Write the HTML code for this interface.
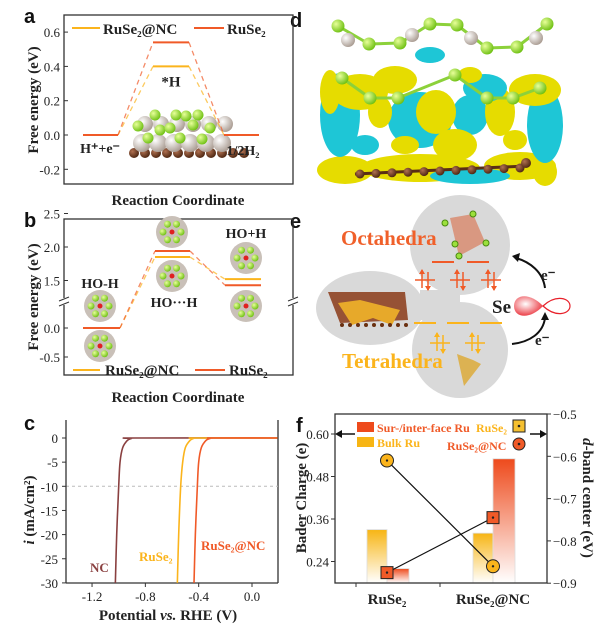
<!DOCTYPE html>
<html><head><meta charset="utf-8"><style>
html,body{margin:0;padding:0;background:#fff}
svg{display:block}
text{font-family:"Liberation Serif",serif;font-weight:bold;fill:#222}
.lt{font-family:"Liberation Sans",sans-serif;font-weight:bold;font-size:20px;fill:#111}
.tk{font-weight:normal;font-size:13px}
</style></head><body>
<svg id="fig" width="600" height="637" viewBox="0 0 600 637" xmlns="http://www.w3.org/2000/svg">
<defs>
<linearGradient id="gy" x1="0" y1="0" x2="0" y2="1"><stop offset="0" stop-color="#f7b514"/><stop offset="1" stop-color="#fff"/></linearGradient>
<linearGradient id="go" x1="0" y1="0" x2="0" y2="1"><stop offset="0" stop-color="#ee4a1c"/><stop offset="1" stop-color="#fff"/></linearGradient>
<radialGradient id="gball" cx="0.35" cy="0.35" r="0.7"><stop offset="0" stop-color="#e8ff9a"/><stop offset="1" stop-color="#6cbf10"/></radialGradient>
<radialGradient id="gru" cx="0.35" cy="0.35" r="0.7"><stop offset="0" stop-color="#fff"/><stop offset="1" stop-color="#a89a90"/></radialGradient>
<radialGradient id="gc" cx="0.35" cy="0.35" r="0.7"><stop offset="0" stop-color="#b07050"/><stop offset="1" stop-color="#4a2410"/></radialGradient>
<radialGradient id="globe" cx="0.4" cy="0.4" r="0.7"><stop offset="0" stop-color="#fff"/><stop offset="1" stop-color="#e8202a"/></radialGradient>
</defs>

<text class="lt" x="24" y="23">a</text>
<text class="lt" x="24" y="227">b</text>
<text class="lt" x="24" y="430">c</text>
<text class="lt" x="290" y="27">d</text>
<text class="lt" x="290" y="228">e</text>
<text class="lt" x="296" y="432">f</text>

<g id="pa"></g>
<g id="pb"></g>
<g id="pc"></g>
<g id="pd"></g>
<g id="pe"></g>
<g id="pf"></g>
</svg>
<script>
// ---------- data ----------
const aStates = ["H⁺+e⁻","*H","1/2H₂"];
const aNC = [0, 0.40, 0];
const aRu = [0, 0.54, 0];
const aTicks = [0.6,0.4,0.2,0.0,-0.2];

const bNC = [0, 1.85, 1.52];
const bRu = [0, 1.94, 1.43];
const bTicksHi = [2.5,2.0,1.5];
const bTicksLo = [0.0,-0.5];

const cCurrents = [0,-0.1,-0.5,-2,-5,-10,-20,-30];
const cNC = [-0.88,-0.905,-0.935,-0.97,-0.99,-1.00,-1.015,-1.025];
const cRuSe2 = [-0.42,-0.44,-0.465,-0.50,-0.52,-0.535,-0.55,-0.56];
const cRuSe2NC = [-0.29,-0.315,-0.345,-0.38,-0.40,-0.41,-0.425,-0.435];
const cXTicks = [-1.2,-0.8,-0.4,0.0];
const cYTicks = [0,-5,-10,-15,-20,-25,-30];

const fCats = ["RuSe₂","RuSe₂@NC"];
const fBulk = [0.33, 0.32];
const fSurf = [0.22, 0.53];
const fDbandSq = [-0.875, -0.745];
const fDbandCi = [-0.61, -0.86];
const fLTicks = [0.60,0.48,0.36,0.24];
const fRTicks = [-0.5,-0.6,-0.7,-0.8,-0.9];

const NS="http://www.w3.org/2000/svg";
const YEL="#fbb41c", ORG="#f05a28";
function mk(parent,tag,attrs,txt){const e=document.createElementNS(NS,tag);for(const k in attrs)e.setAttribute(k,attrs[k]);if(txt!==undefined)e.textContent=txt;parent.appendChild(e);return e;}

// ---------- panel a ----------
(function(){
const g=document.getElementById('pa');
const y=v=>135-v*171.5;
const xs=[[83,118],[153,189],[224,259]];
let f=mk(g,'rect',{x:64,y:15,width:229,height:169,fill:'none',stroke:'#333','stroke-width':1.3});

aTicks.forEach(t=>{mk(g,'line',{x1:64,x2:68,y1:y(t),y2:y(t),stroke:'#333'});
 const l=mk(g,'text',{x:60,y:y(t)+5,'text-anchor':'end',class:'tk'},t.toFixed(1));
 });
for(let i=0;i<11;i++)mk(g,'circle',{cx:134+i*11,cy:153,r:5,fill:'url(#gc)'});
for(let i=0;i<6;i++){mk(g,'circle',{cx:142+i*16,cy:143,r:9,fill:'url(#gru)'});mk(g,'circle',{cx:145+i*16,cy:124,r:8,fill:'url(#gru)'});}
[[148,138],[160,130],[138,126],[155,115],[170,128],[180,138],[193,125],[186,116],[202,139],[210,128],[198,115],[176,115]].forEach(p=>mk(g,'circle',{cx:p[0],cy:p[1],r:5.5,fill:'url(#gball)'}));
function series(vals,col,name){
 vals.forEach((v,i)=>{const s=mk(g,'line',{x1:xs[i][0],x2:xs[i][1],y1:y(v),y2:y(v),stroke:col,'stroke-width':2});
  
  if(i<vals.length-1)mk(g,'line',{x1:xs[i][1],x2:xs[i+1][0],y1:y(v),y2:y(vals[i+1]),stroke:col,'stroke-width':1.3,'stroke-dasharray':'5,4',opacity:0.7});});
}
series(aNC,YEL,'ruse2-nc');series(aRu,ORG,'ruse2');
mk(g,'text',{x:171,y:y(aNC[1])+20,'font-size':15,'text-anchor':'middle'},aStates[1]);
mk(g,'text',{x:100,y:153,'font-size':14,'text-anchor':'middle'},aStates[0]);
mk(g,'text',{x:243,y:155,'font-size':14,'text-anchor':'middle'},aStates[2]);
mk(g,'line',{x1:72,x2:100,y1:28,y2:28,stroke:YEL,'stroke-width':2});
mk(g,'text',{x:103,y:34,'font-size':15},'RuSe₂@NC');
mk(g,'line',{x1:194,x2:224,y1:28,y2:28,stroke:ORG,'stroke-width':2});
mk(g,'text',{x:227,y:34,'font-size':15},'RuSe₂');
const yl=mk(g,'text',{x:0,y:0,'font-size':15,'text-anchor':'middle',transform:'translate(38,100) rotate(-90)'},'Free energy (eV)');

const xl=mk(g,'text',{x:178,y:205,'font-size':15,'text-anchor':'middle'},'Reaction Coordinate');

})();

// ---------- panel b ----------
(function(){
const g=document.getElementById('pb');
const y=v=>v>=1?247-(v-2.0)*67:328-v*58;
const xs=[[83,120],[155,190],[225,261]];
mk(g,'rect',{x:64,y:219,width:229,height:156,fill:'none',stroke:'#333','stroke-width':1.3});
bTicksHi.concat(bTicksLo).forEach(t=>{mk(g,'line',{x1:64,x2:68,y1:y(t),y2:y(t),stroke:'#333'});
 mk(g,'text',{x:60,y:y(t)+5,'text-anchor':'end',class:'tk'},t.toFixed(1));});
[64,293].forEach(x=>{mk(g,'rect',{x:x-4,y:298,width:8,height:7,fill:'#fff'});
 mk(g,'line',{x1:x-5,x2:x+5,y1:301,y2:297,stroke:'#333'});mk(g,'line',{x1:x-5,x2:x+5,y1:306,y2:302,stroke:'#333'});});
[[100,306],[100,346],[172,232],[172,276],[246,258],[246,306]].forEach(p=>{
 mk(g,'circle',{cx:p[0],cy:p[1],r:16,fill:'#c9c0b8'});
 for(let i=0;i<6;i++){const a=i*Math.PI/3;mk(g,'circle',{cx:p[0]+9*Math.cos(a),cy:p[1]+9*Math.sin(a),r:3.5,fill:'url(#gball)'});}
 mk(g,'circle',{cx:p[0],cy:p[1],r:2.5,fill:'#e02020'});});
function series(vals,col){vals.forEach((v,i)=>{mk(g,'line',{x1:xs[i][0],x2:xs[i][1],y1:y(v),y2:y(v),stroke:col,'stroke-width':2});
 if(i<vals.length-1)mk(g,'line',{x1:xs[i][1],x2:xs[i+1][0],y1:y(v),y2:y(vals[i+1]),stroke:col,'stroke-width':1.3,'stroke-dasharray':'5,4',opacity:0.7});});}
series(bNC,YEL);series(bRu,ORG);
mk(g,'text',{x:100,y:288,'font-size':14,'font-weight':'normal','text-anchor':'middle'},'HO-H');
mk(g,'text',{x:174,y:307,'font-size':14,'font-weight':'normal','text-anchor':'middle'},'HO···H');
mk(g,'text',{x:246,y:238,'font-size':14,'font-weight':'normal','text-anchor':'middle'},'HO+H');
mk(g,'line',{x1:73,x2:100,y1:370,y2:370,stroke:YEL,'stroke-width':2});
mk(g,'text',{x:105,y:375,'font-size':15},'RuSe₂@NC');
mk(g,'line',{x1:195,x2:225,y1:370,y2:370,stroke:ORG,'stroke-width':2});
mk(g,'text',{x:229,y:375,'font-size':15},'RuSe₂');
mk(g,'text',{x:0,y:0,'font-size':15,'text-anchor':'middle',transform:'translate(38,297) rotate(-90)'},'Free energy (eV)');
mk(g,'text',{x:178,y:402,'font-size':15,'text-anchor':'middle'},'Reaction Coordinate');
})();

// ---------- panel c ----------
(function(){
const g=document.getElementById('pc');
const x=v=>252+v*133.3;
const Y=v=>438+(-v)*4.83;
mk(g,'line',{x1:66,x2:278,y1:583,y2:583,stroke:'#333','stroke-width':1.3});
mk(g,'line',{x1:278,x2:278,y1:420,y2:583,stroke:'#333','stroke-width':1.3});
mk(g,'line',{x1:66,x2:278,y1:Y(-10),y2:Y(-10),stroke:'#bbb','stroke-dasharray':'3,3'});
cYTicks.forEach(t=>{mk(g,'line',{x1:66,x2:62,y1:Y(t),y2:Y(t),stroke:'#333'});
 mk(g,'text',{x:58,y:Y(t)+5,'text-anchor':'end',class:'tk'},String(t));});
cXTicks.forEach(t=>{mk(g,'line',{x1:x(t),x2:x(t),y1:583,y2:587,stroke:'#333'});
 mk(g,'text',{x:x(t),y:601,'text-anchor':'middle',class:'tk'},t.toFixed(1));});
function curve(vs,col,name){
 const pts=[[x(0.19),Y(0)]];vs.forEach((v,i)=>pts.push([x(v),Y(cCurrents[i])]));
 let d='M'+pts[0][0]+','+pts[0][1];
 for(let i=1;i<pts.length;i++){const p0=pts[Math.max(0,i-2)],p1=pts[i-1],p2=pts[i],p3=pts[Math.min(pts.length-1,i+1)];
  d+=` C${p1[0]+(p2[0]-p0[0])/6},${p1[1]+(p2[1]-p0[1])/6} ${p2[0]-(p3[0]-p1[0])/6},${p2[1]-(p3[1]-p1[1])/6} ${p2[0]},${p2[1]}`;}
 const p=mk(g,'path',{d:d,fill:'none',stroke:col,'stroke-width':1.6});
 
}
curve(cNC,'#8a4040','nc-curve');curve(cRuSe2,YEL,'ruse2-curve');curve(cRuSe2NC,ORG,'ruse2-nc-curve');
mk(g,'line',{x1:66,x2:66,y1:420,y2:583,stroke:'#333','stroke-width':1.3});
mk(g,'text',{x:90,y:572,'font-size':13,style:'fill:#8a4040'},'NC');
mk(g,'text',{x:139,y:561,'font-size':13,style:'fill:'+YEL},'RuSe₂');
mk(g,'text',{x:201,y:550,'font-size':13,style:'fill:'+ORG},'RuSe₂@NC');
const t=mk(g,'text',{x:0,y:0,'font-size':15,'text-anchor':'middle',transform:'translate(34,510) rotate(-90)'});
mk(t,'tspan',{'font-style':'italic'},'i');mk(t,'tspan',{},' (mA/cm²)');
const xt=mk(g,'text',{x:168,y:620,'font-size':15,'text-anchor':'middle'});
mk(xt,'tspan',{},'Potential ');mk(xt,'tspan',{'font-style':'italic'},'vs.');mk(xt,'tspan',{},' RHE (V)');
})();

// ---------- panel d ----------
(function(){
const g=document.getElementById('pd');
const Yc="#e6dc00",Cy="#1ec6d6";
[[345,170,28,14,Yc],[420,168,60,14,Yc],[520,166,36,14,Yc],[470,176,40,8,Cy],[545,172,12,14,Yc],
 [340,115,20,42,Cy],[545,125,18,38,Cy],[420,120,32,28,Cy],[470,115,18,20,Cy],
 [360,92,28,18,Yc],[436,112,20,22,Yc],[455,145,22,16,Yc],[500,112,15,24,Yc],[535,90,26,16,Yc],
 [395,80,22,14,Yc],[330,92,10,22,Yc],[380,112,12,16,Yc],[485,88,22,14,Cy],[430,55,15,8,Cy],
 [470,75,12,8,Yc],[365,145,14,10,Cy],[515,140,12,10,Yc],[405,145,14,9,Yc]].forEach(e=>mk(g,'ellipse',{cx:e[0],cy:e[1],rx:e[2],ry:e[3],fill:e[4]}));
const top=[[338,26],[369,44],[400,43],[430,24],[457,25],[487,48],[517,47],[547,24]];
const mid=[[342,78],[370,98],[398,98],[455,75],[487,98],[513,98],[540,88]];
for(let i=0;i<top.length-1;i++)mk(g,'line',{x1:top[i][0],y1:top[i][1],x2:top[i+1][0],y2:top[i+1][1],stroke:'#8cd13a','stroke-width':3});
for(let i=0;i<mid.length-1;i++)mk(g,'line',{x1:mid[i][0],y1:mid[i][1],x2:mid[i+1][0],y2:mid[i+1][1],stroke:'#8cd13a','stroke-width':3});
[[348,40],[412,35],[471,38],[536,38]].forEach(p=>mk(g,'circle',{cx:p[0],cy:p[1],r:7,fill:'url(#gru)'}));
top.concat(mid).forEach(p=>mk(g,'circle',{cx:p[0],cy:p[1],r:6.5,fill:'url(#gball)'}));
mk(g,'line',{x1:355,y1:174,x2:526,y2:166,stroke:'#5a2e14','stroke-width':3});
for(let i=0;i<11;i++)mk(g,'circle',{cx:360+i*16,cy:174-i*0.6,r:4.5,fill:'url(#gc)'});
mk(g,'circle',{cx:526,cy:163,r:5,fill:'url(#gc)'});
})();

// ---------- panel e ----------
(function(){
const g=document.getElementById('pe');
mk(g,'circle',{cx:460,cy:245,r:50,fill:'#d9d9d9'});
mk(g,'circle',{cx:460,cy:350,r:48,fill:'#d9d9d9'});
mk(g,'ellipse',{cx:370,cy:308,rx:54,ry:37,fill:'#d9d9d9'});
mk(g,'rect',{x:420,y:290,width:40,height:30,fill:'#d9d9d9'});
mk(g,'path',{d:'M450,218 L473,214 L485,242 L459,256 Z',fill:'#d8876a',opacity:0.8});
mk(g,'path',{d:'M457,354 L473,360 L481,364 L464,386 Z',fill:'#dcaa3a',opacity:0.85});
[[445,223],[473,214],[486,243],[459,256],[455,244]].forEach(p=>mk(g,'circle',{cx:p[0],cy:p[1],r:3,fill:'#9be03c',stroke:'#4a8a10'}));
mk(g,'path',{d:'M328,292 L405,292 L408,320 L340,323 Z',fill:'#8a3a18',opacity:0.85});
mk(g,'path',{d:'M338,303 L352,325 L373,318 L392,325 L400,310 L360,300 Z',fill:'#e7a92a'});
for(let i=0;i<9;i++)mk(g,'circle',{cx:342+i*8,cy:325,r:2,fill:'#6a3010'});
mk(g,'text',{x:341,y:245,'font-size':21,style:'fill:#f0602a'},'Octahedra');
mk(g,'text',{x:342,y:368,'font-size':21,style:'fill:#fbb41c'},'Tetrahedra');
[[432,454],[467,489]].forEach(s=>mk(g,'line',{x1:s[0],x2:s[1],y1:262,y2:262,stroke:ORG,'stroke-width':2}));
[[414,436],[447,469],[480,502]].forEach(s=>mk(g,'line',{x1:s[0],x2:s[1],y1:323,y2:323,stroke:YEL,'stroke-width':2}));
function pair(cx,cy,col){mk(g,'line',{x1:cx-10,x2:cx+10,y1:cy,y2:cy,stroke:col,'stroke-width':1.5});
 mk(g,'line',{x1:cx-3,x2:cx-3,y1:cy-10,y2:cy+8,stroke:col,'stroke-width':1.5});mk(g,'path',{d:`M${cx-6},${cy-6} L${cx-3},${cy-11} L${cx},${cy-6}Z`,fill:col});
 mk(g,'line',{x1:cx+3,x2:cx+3,y1:cy-8,y2:cy+10,stroke:col,'stroke-width':1.5});mk(g,'path',{d:`M${cx},${cy+6} L${cx+3},${cy+11} L${cx+6},${cy+6}Z`,fill:col});}
[425,460,491].forEach(c=>pair(c,280,ORG));[440,475].forEach(c=>pair(c,343,YEL));
mk(g,'text',{x:492,y:313,'font-size':19},'Se');
mk(g,'path',{d:'M543,306 C530,292 514,294 514,306 C514,318 530,320 543,306Z',fill:'url(#globe)'});
mk(g,'path',{d:'M543,306 C556,294 570,298 570,306 C570,314 556,318 543,306Z',fill:'#fff',stroke:'#e8202a','stroke-width':1.2});
mk(g,'path',{d:'M545,288 C543,272 530,262 516,258',fill:'none',stroke:'#111','stroke-width':2});
mk(g,'path',{d:'M512,256 L520,253 L518,262Z',fill:'#111'});
mk(g,'path',{d:'M512,344 C530,342 543,333 545,318',fill:'none',stroke:'#111','stroke-width':2});
mk(g,'path',{d:'M541,320 L545,312 L549,320Z',fill:'#111'});
mk(g,'text',{x:541,y:280,'font-size':15},'e⁻');
mk(g,'text',{x:535,y:345,'font-size':15},'e⁻');
})();

// ---------- panel f ----------
(function(){
const g=document.getElementById('pf');
const yL=v=>434+(0.60-v)/0.12*42.5;
const yR=v=>414+(-0.5-v)/0.1*42.3;
const cx=[387,493];
fCats.forEach((c,i)=>{
 const b=mk(g,'rect',{x:cx[i]-20,y:yL(fBulk[i]),width:20,height:583-yL(fBulk[i]),fill:'url(#gy)',stroke:'#ddd','stroke-width':0.8});
 
 const s=mk(g,'rect',{x:cx[i],y:yL(fSurf[i]),width:22,height:583-yL(fSurf[i]),fill:'url(#go)',stroke:'#ddd','stroke-width':0.8});
 
 mk(g,'text',{x:cx[i],y:604,'font-size':15,'text-anchor':'middle'},c);
});
mk(g,'line',{x1:cx[0],y1:yR(fDbandSq[0]),x2:cx[1],y2:yR(fDbandSq[1]),stroke:'#111','stroke-width':1.2});
mk(g,'line',{x1:cx[0],y1:yR(fDbandCi[0]),x2:cx[1],y2:yR(fDbandCi[1]),stroke:'#111','stroke-width':1.2});
cx.forEach((x,i)=>{
 const q=mk(g,'rect',{x:x-6,y:yR(fDbandSq[i])-6,width:12,height:12,fill:'#f05a28',stroke:'#222','stroke-width':1});
 
 mk(g,'circle',{cx:x,cy:yR(fDbandSq[i]),r:1.2,fill:'#222'});
 const c=mk(g,'circle',{cx:x,cy:yR(fDbandCi[i]),r:6.5,fill:'#fbb41c',stroke:'#222','stroke-width':1});
 
 mk(g,'circle',{cx:x,cy:yR(fDbandCi[i]),r:1.2,fill:'#222'});
});
mk(g,'rect',{x:335,y:414,width:212,height:169,fill:'none',stroke:'#333','stroke-width':1.3});
fLTicks.forEach(t=>{mk(g,'line',{x1:335,x2:331,y1:yL(t),y2:yL(t),stroke:'#333'});
 mk(g,'text',{x:329,y:yL(t)+5,'text-anchor':'end',class:'tk'},t.toFixed(2));});
fRTicks.forEach(t=>{mk(g,'line',{x1:547,x2:551,y1:yR(t),y2:yR(t),stroke:'#333'});
 mk(g,'text',{x:553,y:yR(t)+5,class:'tk'},t.toFixed(1).replace('-','−'));});
[356,440].forEach(x=>mk(g,'line',{x1:x,x2:x,y1:583,y2:587,stroke:'#333'}));
mk(g,'rect',{x:357,y:422,width:17,height:10,fill:'#ee4a1c'});
mk(g,'text',{x:377,y:432,'font-size':12,style:'fill:#f05a28'},'Sur-/inter-face Ru');
mk(g,'rect',{x:357,y:437,width:17,height:10,fill:'#f7b514'});
mk(g,'text',{x:377,y:447,'font-size':12,style:'fill:#fbb41c'},'Bulk Ru');
mk(g,'text',{x:476,y:432,'font-size':12,style:'fill:#fbb41c'},'RuSe₂');
mk(g,'rect',{x:513,y:420,width:12,height:12,fill:'#f5c030',stroke:'#222'});
mk(g,'circle',{cx:519,cy:426,r:1.3,fill:'#222'});
mk(g,'text',{x:447,y:450,'font-size':12,style:'fill:#f05a28'},'RuSe₂@NC');
mk(g,'circle',{cx:519,cy:444,r:6,fill:'#f05a28',stroke:'#222'});
mk(g,'circle',{cx:519,cy:444,r:1.3,fill:'#222'});
mk(g,'line',{x1:340,x2:355,y1:434,y2:434,stroke:'#111','stroke-width':1.5});
mk(g,'path',{d:'M335,434 L342,430 L342,438Z',fill:'#111'});
mk(g,'line',{x1:530,x2:542,y1:434,y2:434,stroke:'#111','stroke-width':1.5});
mk(g,'path',{d:'M547,434 L540,430 L540,438Z',fill:'#111'});
mk(g,'text',{x:0,y:0,'font-size':15,'text-anchor':'middle',transform:'translate(306,498) rotate(-90)'},'Bader Charge (e)');
const rt=mk(g,'text',{x:0,y:0,'font-size':15,'text-anchor':'middle',transform:'translate(583,498) rotate(90)'});
mk(rt,'tspan',{'font-style':'italic'},'d');mk(rt,'tspan',{},'-band center (eV)');
})();
</script>
</body></html>
